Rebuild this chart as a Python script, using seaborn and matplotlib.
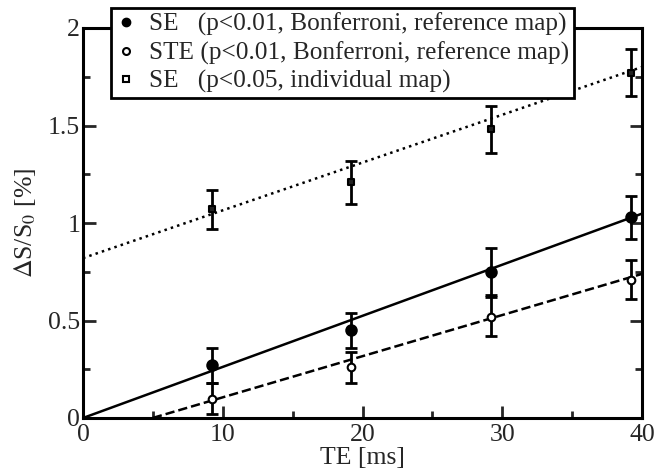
import matplotlib
matplotlib.use("Agg")
import matplotlib.pyplot as plt
from matplotlib.lines import Line2D
from matplotlib.ticker import MultipleLocator, FormatStrFormatter
import numpy as np
import pandas as pd
import seaborn as sns

# echo times [ms]
TE = [9.2, 19.2, 29.2, 39.2]

# SE (p<0.01, Bonferroni, reference map)
SE_REF = [0.27, 0.45, 0.75, 1.03]
SE_REF_ERR = [0.09, 0.09, 0.12, 0.11]
# STE (p<0.01, Bonferroni, reference map)
STE_REF = [0.10, 0.26, 0.52, 0.71]
STE_REF_ERR = [0.08, 0.08, 0.10, 0.10]
# SE (p<0.05, individual map)
SE_IND = [1.07, 1.21, 1.48, 1.77]
SE_IND_ERR = [0.10, 0.11, 0.12, 0.12]

# linear fits: slope, intercept, x range
FIT_SLOPE = [0.0262, 0.0211, 0.0245]
FIT_INTERCEPT = [0.0, -0.105, 0.82]
FIT_XMIN = [0, 5, 0]
FIT_STYLE = ["-", "--", ":"]

LABELS = [
    "SE   (p<0.01, Bonferroni, reference map)",
    "STE (p<0.01, Bonferroni, reference map)",
    "SE   (p<0.05, individual map)",
]

sns.set_style("ticks")
plt.rcParams["font.family"] = ["Liberation Serif", "DejaVu Serif"]
plt.rcParams["mathtext.fontset"] = "stix"

fig = plt.figure(figsize=(6.68, 4.68), dpi=100)
ax = fig.add_axes([83 / 668, 1 - 418 / 468, 559 / 668, 390 / 468])

for slope, icpt, xmin, ls in zip(FIT_SLOPE, FIT_INTERCEPT, FIT_XMIN, FIT_STYLE):
    xs = np.array([xmin, 40])
    fit = pd.DataFrame({"x": xs, "y": icpt + slope * xs})
    sns.lineplot(data=fit, x="x", y="y", ax=ax, color="black", lw=1.8,
                 linestyle=ls, legend=False)

series = [
    (SE_REF, SE_REF_ERR, "o", "black", 7.5),
    (STE_REF, STE_REF_ERR, "o", "white", 5.5),
    (SE_IND, SE_IND_ERR, "s", "#222222", 5),
]
for vals, errs, mk, fc, ms in series:
    ax.errorbar(TE, vals, yerr=errs, fmt="none", ecolor="black",
                elinewidth=2, capsize=4.5, capthick=2, zorder=3)
    df = pd.DataFrame({"te": TE, "v": vals})
    sns.scatterplot(data=df, x="te", y="v", ax=ax, marker=mk, s=ms ** 2,
                    color=fc, edgecolor="black", linewidth=1.5, zorder=4,
                    legend=False)

ax.set_xlim(0, 40)
ax.set_ylim(0, 2)
ax.xaxis.set_major_locator(MultipleLocator(10))
ax.xaxis.set_minor_locator(MultipleLocator(5))
ax.yaxis.set_major_locator(MultipleLocator(0.5))
ax.yaxis.set_minor_locator(MultipleLocator(0.25))
ax.yaxis.set_major_formatter(FormatStrFormatter("%g"))
ax.tick_params(which="both", direction="in", top=True, right=True,
               width=2, labelsize=18.5, pad=2)
ax.tick_params(axis="x", which="both", pad=4)
ax.tick_params(which="major", length=9)
ax.tick_params(which="minor", length=5)
for sp in ax.spines.values():
    sp.set_linewidth(2.2)
    sp.set_color("black")

ax.set_xlabel("TE [ms]", fontsize=18.5, labelpad=1)
ax.set_ylabel(r"$\Delta$S/S$_0$ [%]", fontsize=18.5, labelpad=7)

handles = [
    Line2D([], [], ls="none", marker="o", ms=6, mfc="black", mec="black"),
    Line2D([], [], ls="none", marker="o", ms=5, mfc="white", mec="black", mew=1.5),
    Line2D([], [], ls="none", marker="s", ms=5, mfc="white", mec="black", mew=1.5),
]
leg = fig.legend(handles, LABELS, loc="upper left",
                 bbox_to_anchor=(111 / 668, 1 - 8 / 468), fontsize=18.2,
                 frameon=True, fancybox=False, framealpha=1,
                 edgecolor="black", handlelength=0.8, handletextpad=0.5,
                 borderpad=0.2, labelspacing=0.2, borderaxespad=0)
leg.get_frame().set_linewidth(2)

fig.savefig("out.png", dpi=100)
